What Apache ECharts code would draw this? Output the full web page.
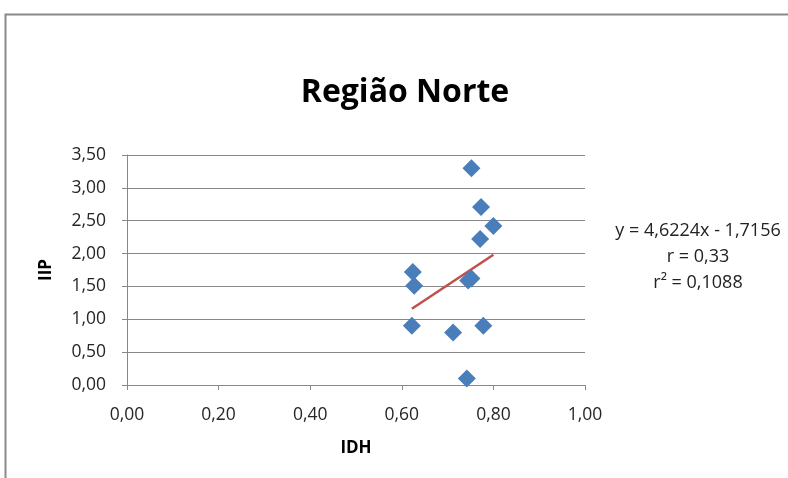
<!DOCTYPE html>
<html><head><meta charset="utf-8">
<script src="https://cdn.jsdelivr.net/npm/echarts@6/dist/echarts.min.js"></script>
<style>html,body{margin:0;padding:0;background:#fff}#c{width:788px;height:478px}</style>
</head><body><div id="c"></div>
<script>
const idh = [0.752, 0.773, 0.800, 0.771, 0.624, 0.627, 0.745, 0.752, 0.622, 0.712, 0.778, 0.742];
const iip = [3.30, 2.71, 2.42, 2.22, 1.72, 1.51, 1.59, 1.62, 0.90, 0.80, 0.90, 0.10];
const slope = 4.6224, intercept = -1.7156;
const trendX = [0.622, 0.800];
const eqLines = ['y = 4,6224x - 1,7156', 'r = 0,33', 'r² = 0,1088'];

const pts = idh.map((x,i)=>[x, iip[i]]);
const trend = trendX.map(x=>[x, slope*x+intercept]);
const fmt = v => v.toFixed(2).replace('.', ',');
const FONT = '"Open Sans", sans-serif';

const chart = echarts.init(document.getElementById('c'));
chart.setOption({
  animation:false,
  backgroundColor:'#fff',
  title:{text:'Região Norte', left:400, top:72, textAlign:'center',
    textStyle:{fontFamily:FONT, fontWeight:'bold', fontSize:32, color:'#000'}},
  grid:{left:127, right:203, top:155, bottom:93},
  xAxis:{type:'value', min:0, max:1, interval:0.2,
    name:'IDH', nameLocation:'middle', nameGap:55,
    nameTextStyle:{fontFamily:FONT, fontWeight:'bold', fontSize:17, color:'#000'},
    axisLine:{lineStyle:{color:'#888', width:1}},
    axisTick:{show:true, length:5, lineStyle:{color:'#888'}},
    axisLabel:{fontFamily:FONT, fontSize:17.5, color:'#262626', margin:21, formatter:fmt},
    splitLine:{show:false}},
  yAxis:{type:'value', min:0, max:3.5, interval:0.5,
    name:'IIP', nameLocation:'middle', nameGap:72, nameRotate:90,
    nameTextStyle:{fontFamily:FONT, fontWeight:'bold', fontSize:17, color:'#000'},
    axisLine:{show:true, lineStyle:{color:'#888', width:1}},
    axisTick:{show:true, length:5, lineStyle:{color:'#888'}},
    axisLabel:{fontFamily:FONT, fontSize:17.5, color:'#262626', margin:21, formatter:fmt},
    splitLine:{lineStyle:{color:'#888', width:1}}},
  series:[
    {type:'line', data:trend, symbol:'none', lineStyle:{color:'#C0504D', width:2.5}, z:1},
    {type:'scatter', data:pts, symbol:'diamond', symbolSize:[18,18],
     itemStyle:{color:'#4A7EBB', opacity:1}, z:2}
  ],
  graphic:[
    {type:'rect', shape:{x:5.5, y:14.5, width:900, height:600},
     style:{fill:null, stroke:'#898989', lineWidth:2}, silent:true},
    ...eqLines.map((t,i)=>({type:'text', x:698, y:231+i*26,
      style:{text:t, textAlign:'center', textVerticalAlign:'middle',
        font:'18px '+FONT, fill:'#222'}}))
  ]
});
</script></body></html>
